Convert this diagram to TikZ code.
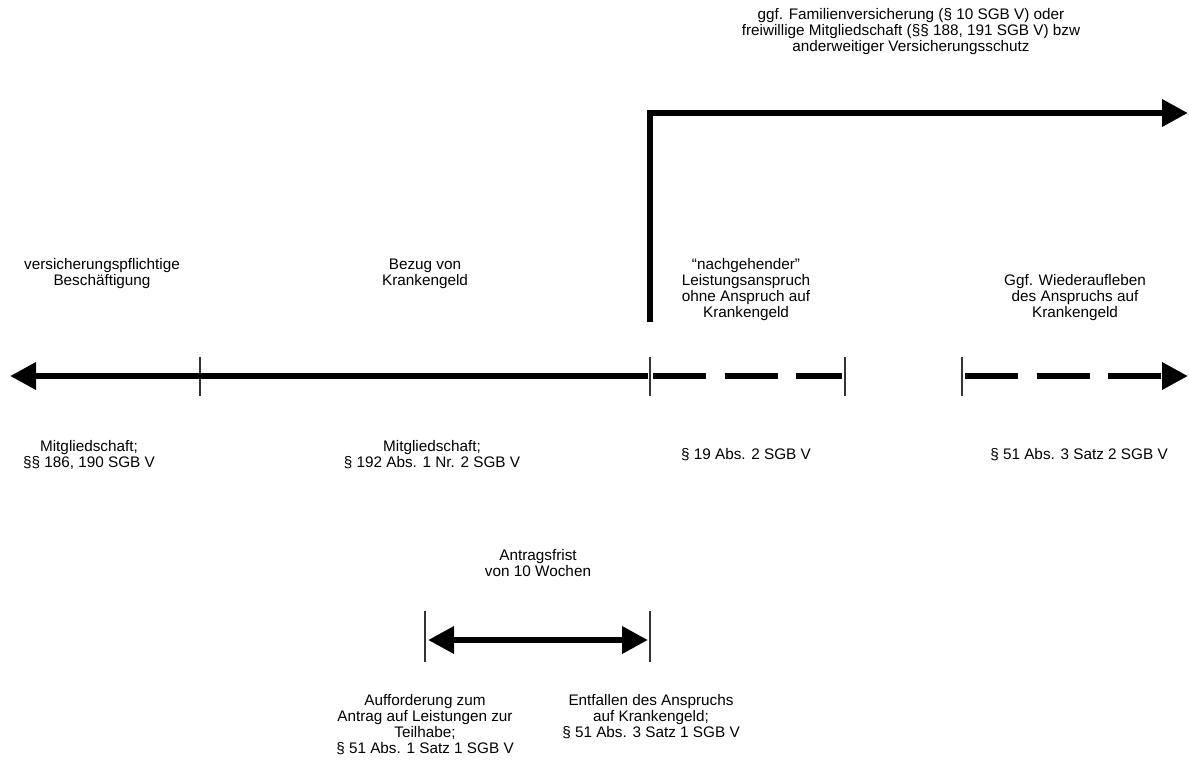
\documentclass[tikz,border=0pt]{standalone}
\usepackage{fontspec}
\setmainfont{Liberation Sans}
\usetikzlibrary{arrows.meta}
\tikzset{
  thickline/.style={line width=6.5pt, line join=miter},
  bigtip/.style={-{Triangle[length=26pt,width=26pt]}},
  bothtips/.style={{Triangle[length=26pt,width=26pt]}-{Triangle[length=26pt,width=26pt]}},
  dashline/.style={thickline, dash pattern=on 53pt off 18.5pt},
  tick/.style={line width=1.3pt, draw=black!80},
  lbl/.style={align=center, inner sep=0pt, font=\fontsize{15.3}{16}\selectfont},
}
\begin{document}
\begin{tikzpicture}[x=1pt,y=-1pt]
\useasboundingbox (0,0) rectangle (1189,764);
% coordinates
\coordinate (Lt) at (10,376);
\coordinate (Ls) at (648,376);
\coordinate (D1a) at (653,376);
\coordinate (D1b) at (842,376);
\coordinate (D2a) at (965,376);
\coordinate (D2b) at (1188,376);
\coordinate (Ub) at (650,322);
\coordinate (Uc) at (650,113);
\coordinate (Ut) at (1188,113);
\coordinate (Ba) at (428,640);
\coordinate (Bb) at (648,640);
% ticks
\foreach \n/\x in {t1/200,t2/650,t3/845,t4/962}{
  \coordinate (\n a) at (\x,357); \coordinate (\n b) at (\x,396);
  \draw[tick] (\n a) -- (\n b);
}
\foreach \n/\x in {b1/425,b2/650}{
  \coordinate (\n a) at (\x,611); \coordinate (\n b) at (\x,662);
  \draw[tick] (\n a) -- (\n b);
}
% main timeline
\draw[thickline, bigtip] (Ls) -- (Lt);
\draw[dashline] (D1a) -- (D1b);
\draw[dashline, bigtip] (D2a) -- (D2b);
% upper arrow
\draw[thickline, bigtip] (Ub) -- (Uc) -- (Ut);
% bottom double arrow
\draw[thickline, bothtips] (Ba) -- (Bb);
% labels
\node[lbl] (top) at (911,32) {ggf. Familienversicherung (§ 10 SGB V) oder\\freiwillige Mitgliedschaft (§§ 188, 191 SGB V) bzw\\anderweitiger Versicherungsschutz};
\node[lbl] (vb) at (102,274) {versicherungspflichtige\\Beschäftigung};
\node[lbl] (bk) at (425,274) {Bezug von\\Krankengeld};
\node[lbl] (na) at (746,290) {“nachgehender”\\Leistungsanspruch\\ohne Anspruch auf\\Krankengeld};
\node[lbl] (wa) at (1075,298) {Ggf. Wiederaufleben\\des Anspruchs auf\\Krankengeld};
\node[lbl] (m1) at (89,455) {Mitgliedschaft;\\§§ 186, 190 SGB V};
\node[lbl] (m2) at (432,455) {Mitgliedschaft;\\§ 192 Abs. 1 Nr. 2 SGB V};
\node[lbl] (p19) at (746,455) {§ 19 Abs. 2 SGB V};
\node[lbl] (p51) at (1079,455) {§ 51 Abs. 3 Satz 2 SGB V};
\node[lbl] (af) at (538,563) {Antragsfrist\\von 10 Wochen};
\node[lbl] (au) at (425,725) {Aufforderung zum\\Antrag auf Leistungen zur\\Teilhabe;\\§ 51 Abs. 1 Satz 1 SGB V};
\node[lbl] (en) at (651,717) {Entfallen des Anspruchs\\auf Krankengeld;\\§ 51 Abs. 3 Satz 1 SGB V};
\end{tikzpicture}
\end{document}
